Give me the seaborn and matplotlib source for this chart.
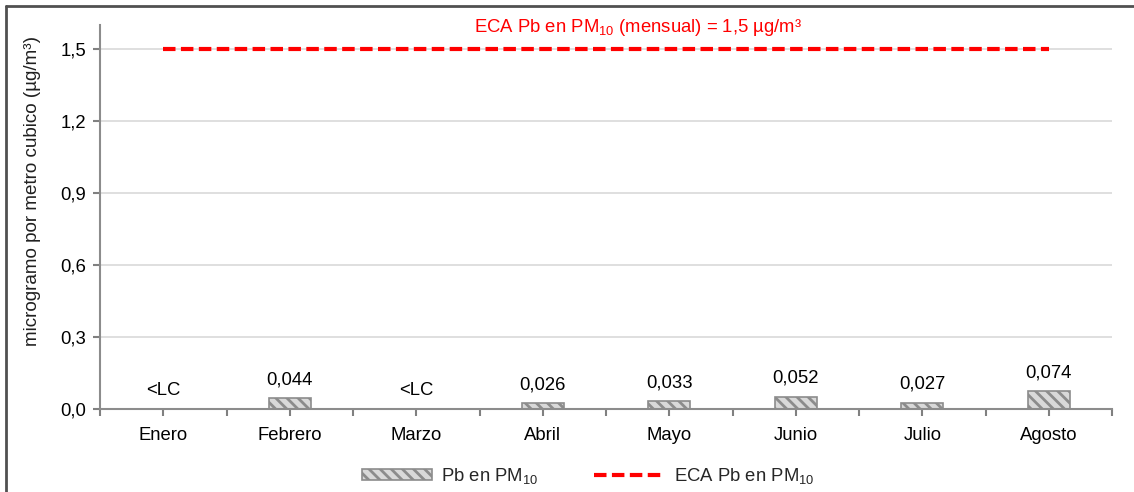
import numpy as np
import pandas as pd
import matplotlib
matplotlib.use("Agg")
import matplotlib.pyplot as plt
from matplotlib.lines import Line2D
from matplotlib.patches import Patch
import seaborn as sns

# Monthly lead (Pb) in PM10 and its environmental quality standard (ECA)
meses = ["Enero", "Febrero", "Marzo", "Abril", "Mayo", "Junio", "Julio", "Agosto"]
pb_pm10 = [np.nan, 0.044, np.nan, 0.026, 0.033, 0.052, 0.027, 0.074]
etiquetas = ["<LC", "0,044", "<LC", "0,026", "0,033", "0,052", "0,027", "0,074"]
eca = [1.5] * len(meses)
yticks = [0.0, 0.3, 0.6, 0.9, 1.2, 1.5]

sns.set_theme(style="white")
plt.rcParams["font.family"] = ["Liberation Sans", "DejaVu Sans"]
plt.rcParams["mathtext.fontset"] = "custom"
plt.rcParams["mathtext.rm"] = "Liberation Sans"
plt.rcParams["mathtext.it"] = "Liberation Sans"
plt.rcParams["hatch.linewidth"] = 2.0
plt.rcParams["hatch.color"] = "#8c8c8c"

FS = 13.3
HATCH = "\\\\\\"

fig = plt.figure(figsize=(11.34, 4.92), dpi=100)
ax = fig.add_axes([100 / 1134, 1 - 409 / 492, 1012 / 1134, 384 / 492])

df = pd.DataFrame({"mes": meses, "pb": pb_pm10})
sns.barplot(data=df, x="mes", y="pb", ax=ax, color="#d9d9d9", width=0.33,
            edgecolor="#8c8c8c", linewidth=1.2, hatch=HATCH, saturation=1,
            errorbar=None)

sns.lineplot(x=np.arange(len(meses)), y=eca, ax=ax, color="#ff0000",
             linewidth=3, dashes=False, zorder=3)
ax.lines[-1].set_dashes([3.0, 1.3])

for i, (v, t) in enumerate(zip(pb_pm10, etiquetas)):
    base = 0 if np.isnan(v) else v
    ax.annotate(t, (i, base), xytext=(0, 7), textcoords="offset points",
                ha="center", va="bottom", fontsize=FS, color="black")

ax.text(3.75, 1.59, "ECA Pb en PM$_\\mathregular{10}$ (mensual) = 1,5 µg/m³",
        ha="center", va="center", fontsize=FS, color="#ff0000")

ax.set_xlim(-0.5, len(meses) - 0.5)
ax.set_ylim(0, 1.6)
ax.set_yticks(yticks)
ax.set_yticklabels([f"{v:.1f}".replace(".", ",") for v in yticks], fontsize=FS)
ax.set_xticks(np.arange(len(meses)))
ax.set_xticklabels(meses, fontsize=FS)
ax.set_xticks(np.arange(len(meses) + 1) - 0.5, minor=True)
ax.set_xlabel("")
ax.set_ylabel("microgramo por metro cubico (µg/m³)", fontsize=13.6,
              color="#202020")
ax.yaxis.set_label_coords(-0.058, 0.568)

ax.yaxis.grid(True, color="#d9d9d9", linewidth=1.2)
ax.set_axisbelow(True)
for s in ["top", "right"]:
    ax.spines[s].set_visible(False)
for s in ["left", "bottom"]:
    ax.spines[s].set_color("#8c8c8c")
    ax.spines[s].set_linewidth(1.5)
ax.tick_params(axis="both", which="both", direction="out", length=5,
               width=1.5, color="#808080", labelcolor="black",
               bottom=True, left=True)
ax.tick_params(axis="x", which="major", pad=8)
ax.tick_params(axis="y", which="major", pad=5)

handles = [
    Patch(facecolor="#d9d9d9", edgecolor="#8c8c8c", hatch=HATCH, linewidth=1.2,
          label="Pb en PM$_\\mathregular{10}$"),
    Line2D([0], [0], color="#ff0000", linewidth=3, dashes=[3.0, 1.3],
           label="ECA Pb en PM$_\\mathregular{10}$"),
]
fig.legend(handles=handles, loc="center", bbox_to_anchor=(588 / 1134, 1 - 476 / 492),
           ncol=2, frameon=False, fontsize=FS, handlelength=3.8,
           handleheight=0.6, columnspacing=3.0, handletextpad=0.5)

# outer frame on the top and left edges
fig.add_artist(Line2D([6 / 1134, 1], [1 - 6 / 492, 1 - 6 / 492],
                      transform=fig.transFigure, color="#505050", linewidth=2))
fig.add_artist(Line2D([6 / 1134, 6 / 1134], [0, 1 - 6 / 492],
                      transform=fig.transFigure, color="#505050", linewidth=2))

fig.savefig("out.png", dpi=100)
